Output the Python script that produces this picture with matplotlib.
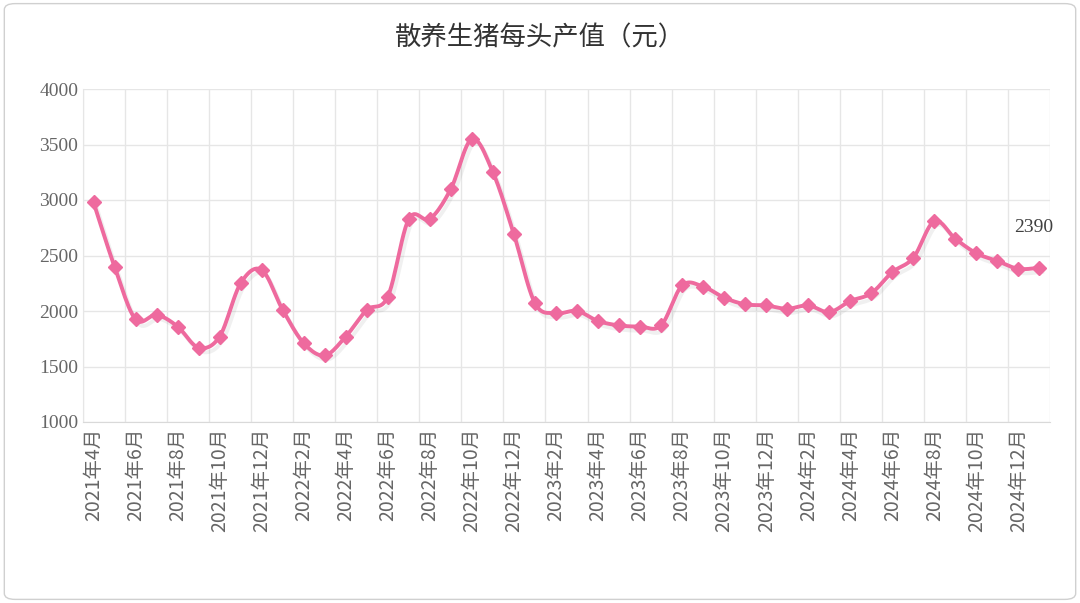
import numpy as np
import matplotlib.pyplot as plt
import matplotlib.patheffects as pe
from matplotlib.patches import FancyBboxPatch

plt.rcParams['font.family'] = ['Noto Sans CJK SC', 'DejaVu Sans']

months = []
for y, ms in [(2021, range(4, 13)), (2022, range(1, 13)), (2023, range(1, 13)),
              (2024, range(1, 13)), (2025, range(1, 2))]:
    for m in ms:
        months.append(f"{y}年{m}月")

values = [2980, 2400, 1925, 1965, 1860, 1670, 1770, 2250, 2370,
          2010, 1710, 1600, 1770, 2010, 2130, 2830, 2830, 3100, 3550, 3250, 2690,
          2070, 1980, 2000, 1910, 1870, 1860, 1870, 2230, 2220, 2120, 2060, 2050,
          2020, 2050, 1990, 2090, 2160, 2350, 2480, 2810, 2650, 2520, 2450, 2380,
          2390]


def smooth(xs, ys, n=12):
    # Catmull-Rom curve through the points (like Excel's smoothed line)
    xs = np.asarray(xs, float); ys = np.asarray(ys, float)
    px = np.concatenate([[xs[0]], xs, [xs[-1]]]); py = np.concatenate([[ys[0]], ys, [ys[-1]]])
    ox, oy = [], []
    t = np.linspace(0, 1, n, endpoint=False)
    for i in range(1, len(px) - 2):
        for p, out in ((px, ox), (py, oy)):
            p0, p1, p2, p3 = p[i - 1], p[i], p[i + 1], p[i + 2]
            out.extend(0.5 * (2 * p1 + (-p0 + p2) * t + (2 * p0 - 5 * p1 + 4 * p2 - p3) * t ** 2
                              + (-p0 + 3 * p1 - 3 * p2 + p3) * t ** 3))
    ox.append(xs[-1]); oy.append(ys[-1])
    return ox, oy


fig = plt.figure(figsize=(10.8, 6.03), dpi=100)
fig.patches.append(FancyBboxPatch((0.004, 0.006), 0.992, 0.988, boxstyle="round,pad=0,rounding_size=0.01",
                                  transform=fig.transFigure, fill=False, edgecolor='#d0d0d0', lw=1))
ax = fig.add_axes([83/1080, 1-422/603, (1050-83)/1080, (422-89)/603])

x = list(range(len(values)))
sx, sy = smooth(x, values)
ax.plot(sx, sy, color='#EE6A9E', lw=2.8,
        path_effects=[pe.SimpleLineShadow(offset=(2, -3), alpha=0.12, shadow_color='#888888'), pe.Normal()])
ax.plot(x, values, ls='none', color='#EE6A9E', marker='D', markersize=7)
ax.annotate(f"{values[-1]}", (x[-1], values[-1]), xytext=(-18, 26), textcoords='offset points',
            fontsize=14, color='#404040', family=['Liberation Serif', 'DejaVu Serif'])

ax.set_xlim(-0.5, len(values) - 0.5)
ax.set_ylim(1000, 4000)
ax.set_yticks(range(1000, 4001, 500))
ax.set_xticks(x[::2])
ax.set_xticklabels(months[::2], rotation=90, fontsize=14, color='#666666')
ax.set_xticks([i - 0.5 for i in range(0, len(values) + 1, 2)], minor=True)
ax.tick_params(axis='x', which='both', length=0, pad=4)
ax.tick_params(axis='y', length=0, labelsize=14, labelcolor='#666666')
for lab in ax.get_yticklabels():
    lab.set_family(['Liberation Serif', 'DejaVu Serif'])
ax.grid(axis='y', color='#e6e6e6', lw=1)
ax.grid(axis='x', which='minor', color='#e6e6e6', lw=1)
for s in ['top', 'right']:
    ax.spines[s].set_visible(False)
ax.spines['left'].set_color('#e6e6e6')
ax.spines['bottom'].set_color('#d9d9d9')

fig.text(0.5, 0.937, "散养生猪每头产值（元）", ha='center', va='center', fontsize=19, color='#333333')

fig.savefig("out.png", dpi=100)
